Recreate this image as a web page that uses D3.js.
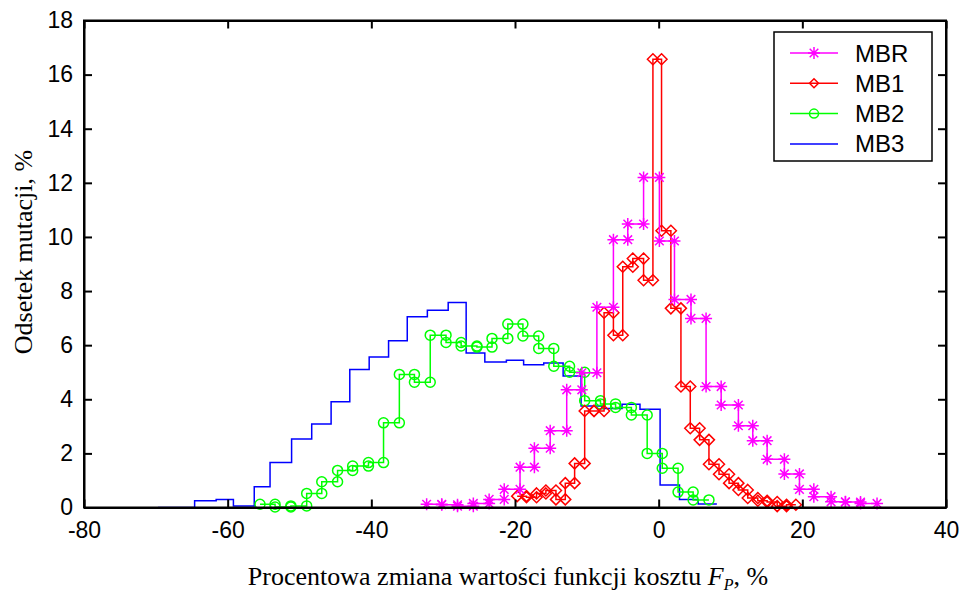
<!DOCTYPE html>
<html>
<head>
<meta charset="utf-8">
<script src="https://cdn.jsdelivr.net/npm/d3@7"></script>
<style>
  body { margin: 0; background: #fff; }
  .axis text { font-family: "Liberation Sans", Arial, sans-serif; font-size: 23px; fill: #000; }
  .axis line, .axis path { stroke: #000; stroke-width: 2; }
</style>
</head>
<body>
<div class="chart"></div>
<script>
// histogram bin edges (%) and shares (%)
const mbrEdges = [-32.3,-30.2,-28.0,-25.8,-23.6,-21.5,-19.3,-17.3,-15.1,-12.8,-10.7,-8.6,-6.3,-4.3,-2.1,0.1,2.2,4.5,6.6,8.7,11.1,13.1,15.1,17.5,19.6,21.6,24.0,26.0,28.1,30.4];
const mbrValues = [0.12,0.1,0.05,0.15,0.3,0.67,1.49,2.19,2.84,4.35,4.98,7.4,9.9,10.48,12.2,9.85,7.69,6.99,4.47,3.79,3.02,2.47,1.78,1.24,0.67,0.4,0.21,0.2,0.15];

const mb1Edges = [-19.7,-18.4,-17.0,-15.7,-14.3,-13.0,-11.7,-10.3,-9.0,-7.6,-6.3,-5.0,-3.6,-2.1,-0.8,0.4,1.7,3.1,4.4,5.7,7.0,8.4,9.8,11.1,12.4,13.8,15.1,16.5,17.8,19.1];
const mb1Values = [0.42,0.38,0.52,0.63,0.3,0.9,1.63,3.57,3.57,7.2,6.37,8.9,9.2,8.4,16.57,10.23,7.36,4.47,2.93,2.5,1.6,1.23,0.9,0.65,0.35,0.25,0.2,0.05,0.1];

const mb2Edges = [-55.5,-53.4,-51.2,-49.0,-46.9,-44.7,-42.6,-40.4,-38.3,-36.1,-34.0,-31.8,-29.6,-27.5,-25.3,-23.2,-21.0,-18.9,-16.7,-14.6,-12.4,-10.3,-8.1,-6.0,-3.8,-1.6,0.5,2.7,4.8,7.0];
const mb2Values = [0.12,0.02,0.06,0.52,0.95,1.37,1.53,1.66,3.13,4.92,4.63,6.37,6.1,5.97,5.93,6.25,6.78,6.34,5.88,5.22,5.0,3.95,3.83,3.7,3.42,2.0,1.45,0.57,0.28];

const mb3Edges = [-69.7,-67.0,-64.6,-61.6,-59.2,-56.3,-54.1,-51.1,-48.3,-45.6,-43.0,-40.3,-37.6,-35.0,-32.2,-29.3,-26.8,-24.2,-21.2,-18.8,-16.0,-13.3,-10.8,-7.9,-5.1,-2.6,0.2,2.9,5.5,8.1];
const mb3Values = [0,0,0.25,0.3,0.06,0.77,1.66,2.53,3.09,3.91,5.1,5.56,6.16,7.05,7.29,7.58,5.71,5.38,5.44,5.28,5.34,4.86,3.75,3.66,3.82,3.63,0.83,0.3,0.13];

const xTicks = [-80,-60,-40,-20,0,20,40];
const yTicks = [0,2,4,6,8,10,12,14,16,18];

const series = [
  {name: 'MBR', edges: mbrEdges, values: mbrValues, color: '#ff00ff', marker: 'star'},
  {name: 'MB1', edges: mb1Edges, values: mb1Values, color: '#ff0000', marker: 'diamond'},
  {name: 'MB2', edges: mb2Edges, values: mb2Values, color: '#00ff00', marker: 'circle'},
  {name: 'MB3', edges: mb3Edges, values: mb3Values, color: '#0000ff', marker: null}
];

const W = 963, H = 594;
const box = {left: 84, right: 946, top: 20.5, bottom: 507.5};

const xScale = d3.scaleLinear().domain([-80, 40]).range([box.left, box.right]);
const yScale = d3.scaleLinear().domain([0, 18]).range([box.bottom, box.top]);

const svg = d3.select('.chart')
              .append('svg')
              .attr('width', W)
              .attr('height', H);

// step vertices: both corners of every bin
function stepPoints(edges, values) {
  const pts = [];
  values.forEach((v, i) => {
    pts.push([edges[i], v]);
    pts.push([edges[i+1], v]);
  });
  return pts;
}

const line = d3.line().x(d => xScale(d[0])).y(d => yScale(d[1]));

function markerPath(type) {
  if (type === 'diamond') return 'M0,-5.5L5.5,0L0,5.5L-5.5,0Z';
  if (type === 'star') return 'M-6,0H6M0,-6V6M-4.3,-4.3L4.3,4.3M-4.3,4.3L4.3,-4.3';
  return null;
}

function drawMarker(g, type, color) {
  if (type === 'circle') {
    g.append('circle').attr('r', 5).attr('fill', 'none')
     .attr('stroke', color).attr('stroke-width', 1.5);
  } else if (type) {
    g.append('path').attr('d', markerPath(type)).attr('fill', 'none')
     .attr('stroke', color).attr('stroke-width', 1.5);
  }
}

const plot = svg.append('g');

series.slice().reverse().forEach(s => {
  const pts = stepPoints(s.edges, s.values);
  plot.append('path')
      .datum(pts)
      .attr('d', line)
      .attr('fill', 'none')
      .attr('stroke', s.color)
      .attr('stroke-width', 1.5);
  if (s.marker) {
    plot.selectAll(null)
        .data(pts)
        .enter()
        .append('g')
        .attr('transform', d => `translate(${xScale(d[0])},${yScale(d[1])})`)
        .each(function() { drawMarker(d3.select(this), s.marker, s.color); });
  }
});

// axes, ticks pointing inward on all four sides
svg.append('g')
   .attr('class', 'axis')
   .attr('transform', `translate(0,${box.bottom})`)
   .call(d3.axisBottom(xScale).tickValues(xTicks).tickSizeInner(-8).tickSizeOuter(0).tickPadding(14).tickFormat(d => d < 0 ? '-' + Math.abs(d) : d));

svg.append('g')
   .attr('class', 'axis')
   .attr('transform', `translate(0,${box.top})`)
   .call(d3.axisTop(xScale).tickValues(xTicks).tickSizeInner(-8).tickSizeOuter(0).tickFormat(''));

svg.append('g')
   .attr('class', 'axis')
   .attr('transform', `translate(${box.left},0)`)
   .call(d3.axisLeft(yScale).tickValues(yTicks).tickSizeInner(-8).tickSizeOuter(0).tickPadding(11));

svg.append('g')
   .attr('class', 'axis')
   .attr('transform', `translate(${box.right},0)`)
   .call(d3.axisRight(yScale).tickValues(yTicks).tickSizeInner(-8).tickSizeOuter(0).tickFormat(''));

svg.append('rect')
   .attr('x', box.left).attr('y', box.top)
   .attr('width', box.right - box.left).attr('height', box.bottom - box.top)
   .attr('fill', 'none').attr('stroke', '#000').attr('stroke-width', 2);

// legend
const lg = svg.append('g').attr('transform', 'translate(774,32)');
lg.append('rect').attr('width', 158).attr('height', 129)
  .attr('fill', '#fff').attr('stroke', '#000').attr('stroke-width', 1.5);
series.forEach((s, i) => {
  const yy = 21 + i * 30.3;
  lg.append('line').attr('x1', 16).attr('x2', 64).attr('y1', yy).attr('y2', yy)
    .attr('stroke', s.color).attr('stroke-width', 1.5);
  const m = lg.append('g').attr('transform', `translate(40,${yy})`);
  if (s.marker === 'circle') {
    m.append('circle').attr('r', 4.5).attr('fill', 'none').attr('stroke', s.color).attr('stroke-width', 1.5);
  } else if (s.marker === 'diamond') {
    m.append('path').attr('d', 'M0,-4.5L4.5,0L0,4.5L-4.5,0Z').attr('fill', 'none').attr('stroke', s.color).attr('stroke-width', 1.5);
  } else if (s.marker === 'star') {
    m.append('path').attr('d', markerPath('star')).attr('fill', 'none').attr('stroke', s.color).attr('stroke-width', 1.5);
  }
  lg.append('text').attr('x', 81).attr('y', yy + 8.5)
    .attr('font-family', '"Liberation Sans", Arial, sans-serif')
    .attr('font-size', 24)
    .text(s.name);
});

// axis titles
const xt = svg.append('text')
   .attr('x', 508)
   .attr('y', 585)
   .attr('text-anchor', 'middle')
   .attr('font-family', '"Liberation Serif", "Times New Roman", serif')
   .attr('font-size', 26);
xt.append('tspan').text('Procentowa zmiana wartości funkcji kosztu ');
xt.append('tspan').attr('font-style', 'italic').text('F');
xt.append('tspan').attr('font-style', 'italic').attr('font-size', 16).attr('dy', 5).text('P');
xt.append('tspan').attr('dy', -5).text(', %');

svg.append('text')
   .attr('transform', 'translate(32,252) rotate(-90)')
   .attr('text-anchor', 'middle')
   .attr('font-family', '"Liberation Serif", "Times New Roman", serif')
   .attr('font-size', 26)
   .text('Odsetek mutacji, %');
</script>
</body>
</html>
